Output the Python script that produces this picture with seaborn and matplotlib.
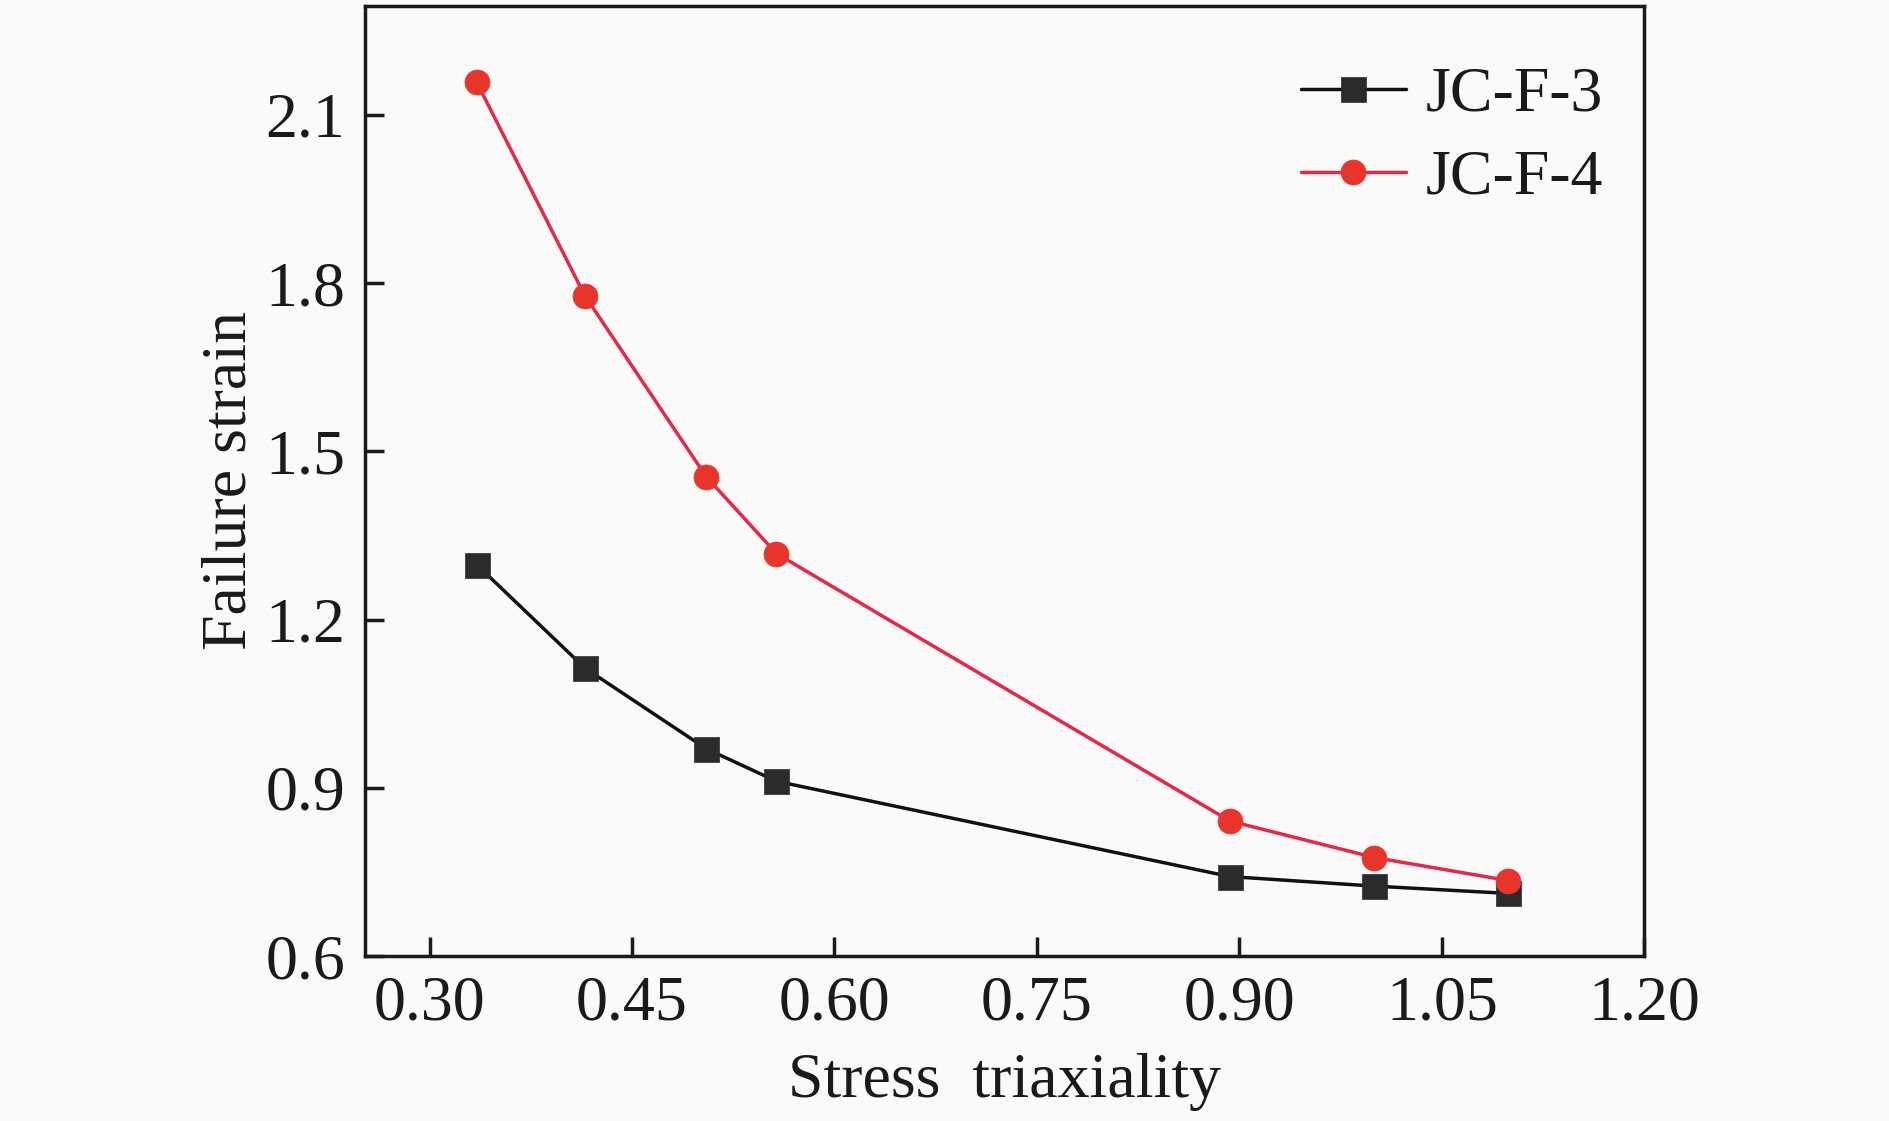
import numpy as np
import pandas as pd
import matplotlib
matplotlib.use("Agg")
import matplotlib.pyplot as plt
import seaborn as sns

# Values
triaxiality = [0.335, 0.415, 0.505, 0.557, 0.893, 1.0, 1.099]
jc_f3 = [1.298, 1.114, 0.970, 0.912, 0.742, 0.725, 0.712]
jc_f4 = [2.158, 1.778, 1.455, 1.318, 0.841, 0.776, 0.735]
series_names = ["JC-F-3", "JC-F-4"]
x_ticks = [0.30, 0.45, 0.60, 0.75, 0.90, 1.05, 1.20]
y_ticks = [0.6, 0.9, 1.2, 1.5, 1.8, 2.1]

df = pd.DataFrame({
    "Stress triaxiality": triaxiality * 2,
    "Failure strain": jc_f3 + jc_f4,
    "series": [series_names[0]] * len(jc_f3) + [series_names[1]] * len(jc_f4),
})

sns.set_theme(style="ticks")
plt.rcParams["font.family"] = ["Liberation Serif", "DejaVu Serif"]

bg = "#fafafa"
fig = plt.figure(figsize=(18.9, 11.21), dpi=100, facecolor=bg)
ax = fig.add_axes([0.193, 0.147, 0.677, 0.848])
ax.set_facecolor(bg)

styles = {
    "JC-F-3": dict(color="#111111", marker="s", mfc="#2b2b2b", mec="#2b2b2b"),
    "JC-F-4": dict(color="#e8264a", marker="o", mfc="#e8352c", mec="#e8352c"),
}
for name in series_names:
    st = styles[name]
    sub = df[df["series"] == name]
    sns.lineplot(data=sub, x="Stress triaxiality", y="Failure strain", ax=ax,
                 color=st["color"], marker=st["marker"], markersize=18,
                 markerfacecolor=st["mfc"], markeredgecolor=st["mec"],
                 markeredgewidth=0.5, linewidth=2.5, label=name)

ax.set_xlim(0.252, 1.20)
ax.set_ylim(0.6, 2.295)
ax.set_xticks(x_ticks)
ax.set_xticklabels([f"{v:.2f}" for v in x_ticks])
ax.set_yticks(y_ticks)
ax.set_yticklabels([f"{v:.1f}" for v in y_ticks])

ax.tick_params(axis="both", direction="in", length=14, width=2.5,
               labelsize=46, colors="#1a1a1a", pad=14)
for side in ["top", "right", "bottom", "left"]:
    ax.spines[side].set_visible(True)
    ax.spines[side].set_linewidth(2.5)
    ax.spines[side].set_color("#1a1a1a")

ax.set_xlabel("Stress  triaxiality", fontsize=46, color="#1a1a1a", labelpad=14)
ax.set_ylabel("Failure strain", fontsize=46, color="#1a1a1a", labelpad=4)

leg = ax.legend(loc="upper right", frameon=False, fontsize=46,
                handlelength=1.65, handletextpad=0.3, labelspacing=0.38,
                borderaxespad=0.25, bbox_to_anchor=(1.0, 0.98))
for t in leg.get_texts():
    t.set_color("#1a1a1a")

fig.savefig("out.png", dpi=100, facecolor=bg)
